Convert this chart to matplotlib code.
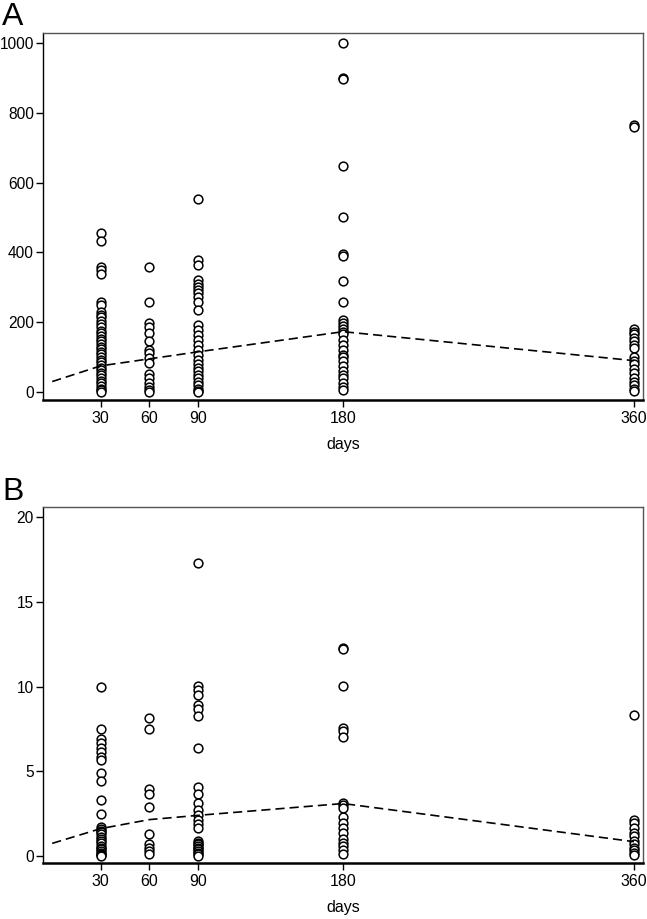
import matplotlib
matplotlib.use("Agg")
import matplotlib.pyplot as plt

plt.rcParams['font.family'] = ['Liberation Sans', 'DejaVu Sans']

day_ticks = [30, 60, 90, 180, 360]

# Panel A values per day
a_30 = [455, 434, 359, 350, 338, 259, 249, 230, 222, 215, 205, 195, 185, 175, 170, 160, 152, 145,
        138, 130, 122, 115, 108, 100, 92, 85, 78, 70, 62, 55, 48, 40, 32, 25, 18, 10, 5, 0]
a_60 = [359, 257, 199, 187, 169, 147, 120, 111, 97, 84, 52, 40, 26, 15, 6, 0]
a_90 = [552, 378, 364, 321, 311, 302, 292, 283, 273, 259, 235, 192, 178, 163, 149, 135, 120, 106,
        92, 80, 70, 60, 50, 40, 30, 20, 10, 3, 0]
a_180 = [1001, 901, 897, 648, 501, 397, 390, 319, 257, 206, 198, 190, 180, 172, 165, 150, 135,
         120, 105, 100, 90, 75, 60, 50, 40, 25, 15, 5]
a_360 = [765, 760, 180, 172, 165, 155, 145, 135, 125, 100, 90, 80, 65, 55, 40, 30, 20, 10, 3]

# Panel B values per day
b_30 = [10.0, 7.5, 6.9, 6.65, 6.4, 6.15, 5.85, 5.65, 4.9, 4.45, 3.3, 2.5, 1.7, 1.6, 1.5, 1.4,
        1.3, 1.1, 1.0, 0.9, 0.8, 0.6, 0.5, 0.4, 0.3, 0.2, 0.1, 0.05, 0.0]
b_60 = [8.15, 7.5, 3.95, 3.65, 2.9, 1.3, 0.7, 0.5, 0.3, 0.12]
b_90 = [17.3, 10.05, 9.8, 9.5, 8.9, 8.7, 8.25, 6.4, 4.1, 3.65, 3.15, 2.7, 2.4, 2.1, 1.9, 1.65,
        0.9, 0.8, 0.7, 0.6, 0.5, 0.4, 0.3, 0.2, 0.1, 0.0]
b_180 = [12.3, 12.2, 10.05, 7.55, 7.35, 7.05, 3.15, 3.0, 2.85, 2.3, 1.95, 1.65, 1.35, 1.0, 0.8,
         0.6, 0.35, 0.1]
b_360 = [8.3, 2.1, 1.95, 1.65, 1.35, 1.2, 0.9, 0.7, 0.5, 0.35, 0.2, 0.05]

# Smoothed trend lines
line_days = [0, 30, 60, 90, 180, 360]
a_line = [30, 75, 95, 115, 173, 90]
b_line = [0.75, 1.62, 2.15, 2.4, 3.1, 0.85]

fig = plt.figure(figsize=(6.47, 9.19), dpi=100)
axA = fig.add_axes([0.0665, 0.5647, 0.9273, 0.3993])
axB = fig.add_axes([0.0665, 0.0609, 0.9273, 0.3874])


def draw(ax, cols, line_vals, ylim, yticks, letter):
    for d, vals in zip(day_ticks, cols):
        ax.plot([d] * len(vals), vals, linestyle='none', marker='o', markersize=6.3,
                markerfacecolor='white', markeredgecolor='black', markeredgewidth=1.1, zorder=3)
    ax.plot(line_days, line_vals, color='black', linestyle=(0, (5.5, 3)), linewidth=1.2, zorder=4)
    ax.set_xlim(-5.7, 365.6)
    ax.set_ylim(*ylim)
    ax.set_xticks(day_ticks)
    ax.set_yticks(yticks)
    ax.tick_params(axis='x', direction='out', length=5, width=1, labelsize=11.5, colors='black', pad=3)
    ax.tick_params(axis='y', direction='out', length=5, width=1, labelsize=11.2, colors='black', pad=1.5)
    for s in ['top', 'right']:
        ax.spines[s].set_color('#555555')
        ax.spines[s].set_linewidth(1.0)
    ax.spines['left'].set_linewidth(1.0)
    ax.spines['bottom'].set_linewidth(1.8)
    ax.set_xlabel('days', fontsize=11.5, labelpad=8)
    ax.text(-0.068, 1.085, letter, transform=ax.transAxes, fontsize=23, va='top', ha='left')


draw(axA, [a_30, a_60, a_90, a_180, a_360], a_line, (-23, 1029), [0, 200, 400, 600, 800, 1000], 'A')
draw(axB, [b_30, b_60, b_90, b_180, b_360], b_line, (-0.41, 20.59), [0, 5, 10, 15, 20], 'B')

fig.savefig('out.png', dpi=100)
